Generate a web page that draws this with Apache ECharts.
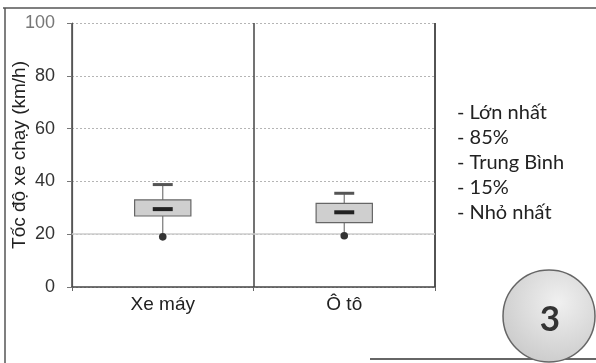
<!DOCTYPE html>
<html><head><meta charset="utf-8">
<script src="https://cdn.jsdelivr.net/npm/echarts@6/dist/echarts.min.js"></script>
<style>html,body{margin:0;padding:0;background:#fff}#c{width:596px;height:363px}</style>
</head><body><div id="c"></div>
<script>
const categories = ['Xe máy', 'Ô tô'];
const maxVals = [38.8, 35.5];
const p85Vals = [33.0, 31.7];
const meanVals = [29.5, 28.3];
const p15Vals = [26.9, 24.4];
const minVals = [19.0, 19.4];
const yTicks = [0, 20, 40, 60, 80, 100];
const legendLines = ['- Lớn nhất', '- 85%', '- Trung Bình', '- 15%', '- Nhỏ nhất'];

const data = categories.map((c, i) => [i, maxVals[i], p85Vals[i], meanVals[i], p15Vals[i], minVals[i]]);

const chart = echarts.init(document.getElementById('c'));
chart.setOption({
  animation: false,
  backgroundColor: '#fff',
  grid: { left: 72, right: 161, top: 23, bottom: 76, containLabel: false, outerBoundsMode: 'none' },
  xAxis: {
    type: 'category', data: categories, boundaryGap: true,
    axisLine: { lineStyle: { color: '#444', width: 1.5 } },
    axisTick: { show: true, alignWithLabel: false, length: 4, lineStyle: { color: '#666' } },
    axisLabel: { color: '#222', fontSize: 19, fontFamily: 'Liberation Sans, Arial', margin: 8 },
    splitLine: { show: true, interval: 0, lineStyle: { color: '#444', width: 1.5 } }
  },
  yAxis: {
    type: 'value', min: 0, max: 100, interval: 20,
    name: 'Tốc độ xe chạy (km/h)', nameLocation: 'middle', nameGap: 43, nameRotate: 90,
    nameMoveOverlap: false,
    nameTextStyle: { color: '#222', fontSize: 19, fontFamily: 'Liberation Sans, Arial' },
    axisLine: { show: true, lineStyle: { color: '#555', width: 1.2 } },
    axisTick: { show: true, length: 5, lineStyle: { color: '#777' } },
    axisLabel: { color: '#333', fontSize: 18, fontFamily: 'Liberation Sans, Arial', margin: 17,
      formatter: v => yTicks.includes(v) ? (v === 100 ? '{l|100}' : String(v)) : '',
      rich: { l: { color: '#777', fontSize: 18, fontFamily: 'Liberation Sans, Arial' } } },
    splitLine: { show: true, lineStyle: { color: '#b5b5b5', type: [2, 2], width: 1 } }
  },
  series: [{
    type: 'custom',
    data: data,
    encode: { x: 0, y: [1, 2, 3, 4, 5] },
    renderItem: function (params, api) {
      const x = api.value(0);
      const pMax = api.coord([x, api.value(1)]);
      const pQ3 = api.coord([x, api.value(2)]);
      const pMed = api.coord([x, api.value(3)]);
      const pQ1 = api.coord([x, api.value(4)]);
      const pMin = api.coord([x, api.value(5)]);
      const bw = api.size([1, 0])[0];
      const boxW = bw * 0.31;
      const capW = bw * 0.11;
      const medW = bw * 0.11;
      const cx = pMax[0];
      return {
        type: 'group',
        children: [
          { type: 'line', shape: { x1: cx, y1: pMax[1], x2: cx, y2: pQ3[1] }, style: { stroke: '#777', lineWidth: 1.2 } },
          { type: 'line', shape: { x1: cx, y1: pQ1[1], x2: cx, y2: pMin[1] }, style: { stroke: '#777', lineWidth: 1.2 } },
          { type: 'rect', shape: { x: cx - capW / 2, y: pMax[1] - 1.5, width: capW, height: 3 }, style: { fill: '#555' } },
          { type: 'rect', shape: { x: cx - boxW / 2, y: pQ3[1], width: boxW, height: pQ1[1] - pQ3[1] },
            style: { fill: '#cfcfcf', stroke: '#666', lineWidth: 1.2 } },
          { type: 'rect', shape: { x: cx - medW / 2, y: pMed[1] - 2, width: medW, height: 4 }, style: { fill: '#222' } },
          { type: 'circle', shape: { cx: cx, cy: pMin[1], r: 3.8 }, style: { fill: '#333' } }
        ]
      };
    }
  }],
  graphic: [
    { type: 'line', shape: { x1: 3, y1: 8, x2: 596, y2: 8 }, style: { stroke: '#555', lineWidth: 1.5 } },
    { type: 'line', shape: { x1: 5, y1: 8, x2: 5, y2: 363 }, style: { stroke: '#555', lineWidth: 1.5 } },
    { type: 'line', shape: { x1: 370, y1: 359, x2: 596, y2: 359 }, style: { stroke: '#666', lineWidth: 2 } },
    { type: 'line', shape: { x1: 435, y1: 23, x2: 435, y2: 287 }, style: { stroke: '#555', lineWidth: 1.5 } },
    { type: 'line', shape: { x1: 72, y1: 234, x2: 435, y2: 234 }, style: { stroke: '#ccc', lineWidth: 1.5 }, z: 1 },
    { type: 'text', left: 457, top: 100, style: { text: legendLines.join('\n'), fill: '#222', fontSize: 20,
      fontFamily: 'Lato, Open Sans', lineHeight: 25 } },
    { type: 'circle', shape: { cx: 549, cy: 316, r: 46 },
      style: { fill: new echarts.graphic.RadialGradient(0.6, 0.35, 0.75, [{ offset: 0, color: '#f0f0f0' }, { offset: 1, color: '#c8c8c8' }]),
        stroke: '#666', lineWidth: 1.5 } },
    { type: 'text', x: 550, y: 320, style: { text: '3', fill: '#333', fontSize: 35, fontWeight: 'bold',
      fontFamily: 'Lato, Open Sans', align: 'center', verticalAlign: 'middle' } }
  ]
});
</script></body></html>
